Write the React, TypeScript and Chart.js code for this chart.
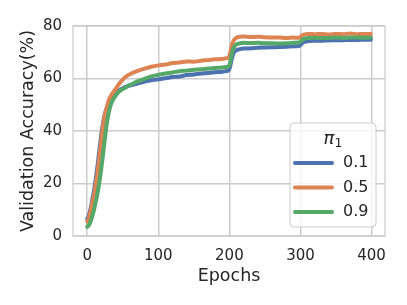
import React, { useEffect, useRef } from "react";
import { Chart, registerables } from "chart.js";

Chart.register(...registerables);

// ---- data ----
const epochs = [
  0, 2, 4, 6, 8, 10, 12, 14, 16, 18, 20, 22, 24, 26, 28, 30, 33, 36, 40, 45, 50, 55, 60,
  70, 80, 90, 100, 110, 120, 130, 140, 150, 160, 170, 180, 190, 195, 199,
  201, 203, 205, 207, 210, 215, 220, 230, 240, 250, 260, 270, 280, 290, 295, 299,
  301, 303, 305, 308, 312, 320, 330, 340, 350, 360, 370, 380, 390, 399,
];

const acc01 = [
  6.5, 7.5, 9.5, 12, 15, 18, 21.5, 25.5, 30, 34.5, 39, 42.5, 45.5, 47.5, 49, 50.5, 52, 53.2, 54.5, 55.5, 56.3, 56.9, 57.3,
  58, 58.7, 59.3, 59.7, 60.1, 60.6, 60.8, 61.3, 61.5, 61.9, 62.1, 62.4, 62.6, 62.8, 63.1,
  64.5, 67, 69, 70.1, 70.8, 71.2, 71.4, 71.5, 71.7, 71.8, 71.9, 72, 72.1, 72.3, 72.3, 72.5,
  73, 73.6, 73.9, 74.1, 74.3, 74.4, 74.4, 74.5, 74.6, 74.6, 74.7, 74.7, 74.8, 74.8,
];

const acc05 = [
  5.5, 6.5, 8.5, 11, 13.5, 16, 19.5, 23, 27.5, 32, 37, 41.5, 45, 47.5, 49.5, 51.5, 53.2, 54.5, 56, 58, 59.6, 60.8, 61.6,
  62.8, 63.7, 64.5, 65, 65.3, 65.9, 66.1, 66.5, 66.4, 66.8, 67, 67.3, 67.4, 67.7, 68,
  69.5, 72, 73.8, 74.8, 75.5, 75.9, 76, 75.8, 75.9, 75.7, 75.6, 75.6, 75.4, 75.6, 75.5, 75.6,
  76, 76.5, 76.7, 76.9, 77, 76.9, 77, 76.8, 77, 76.9, 77.1, 76.9, 77, 77,
];

const acc09 = [
  3.5, 4, 5, 6.5, 8.3, 10.5, 13, 15.5, 18.5, 22, 26, 30.5, 35, 39.5, 43.5, 46.5, 49.8, 51.8, 53.4, 55, 56, 56.8, 57.5,
  58.8, 59.8, 60.8, 61.4, 61.9, 62.3, 62.8, 63, 63.3, 63.5, 63.8, 64, 64.2, 64.4, 64.6,
  66, 68.8, 71, 72.2, 73, 73.4, 73.6, 73.5, 73.6, 73.4, 73.4, 73.3, 73.4, 73.6, 73.7, 73.8,
  74.3, 74.8, 75.1, 75.3, 75.4, 75.5, 75.4, 75.5, 75.6, 75.5, 75.6, 75.6, 75.5, 75.6,
];

const seriesLabels = ["0.1", "0.5", "0.9"];
const seriesColors = ["#4c72b0", "#dd8452", "#55a868"];
const seriesValues = [acc01, acc05, acc09];
const xTicks = [0, 100, 200, 300, 400];
const yTicks = [0, 20, 40, 60, 80];
const xLabel = "Epochs";
const yLabel = "Validation Accuracy(%)";
const legendTitle = "π";
const legendTitleSub = "1";

const FONT = "'DejaVu Sans', sans-serif";
const TEXT = "#262626";
const GRID = "#cccccc";

const framePlugin = {
  id: "mplFrame",
  beforeDatasetsDraw(chart: any) {
    const { ctx, chartArea: a } = chart;
    ctx.save();
    ctx.strokeStyle = GRID;
    ctx.lineWidth = 1.25;
    ctx.strokeRect(a.left, a.top, a.right - a.left, a.bottom - a.top);
    ctx.restore();
  },
};

const legendPlugin = {
  id: "mplLegend",
  afterDraw(chart: any) {
    const { ctx, chartArea: a } = chart;
    const w = 86;
    const h = 104;
    const x0 = a.right - 9 - w;
    const y0 = a.bottom - 9 - h;
    ctx.save();
    const r = 4;
    ctx.beginPath();
    ctx.moveTo(x0 + r, y0);
    ctx.lineTo(x0 + w - r, y0);
    ctx.quadraticCurveTo(x0 + w, y0, x0 + w, y0 + r);
    ctx.lineTo(x0 + w, y0 + h - r);
    ctx.quadraticCurveTo(x0 + w, y0 + h, x0 + w - r, y0 + h);
    ctx.lineTo(x0 + r, y0 + h);
    ctx.quadraticCurveTo(x0, y0 + h, x0, y0 + h - r);
    ctx.lineTo(x0, y0 + r);
    ctx.quadraticCurveTo(x0, y0, x0 + r, y0);
    ctx.closePath();
    ctx.fillStyle = "rgba(255,255,255,0.8)";
    ctx.fill();
    ctx.strokeStyle = GRID;
    ctx.lineWidth = 1;
    ctx.stroke();

    // title
    ctx.fillStyle = TEXT;
    ctx.textBaseline = "alphabetic";
    ctx.textAlign = "left";
    ctx.font = `italic 18px ${FONT}`;
    const wPi = ctx.measureText(legendTitle).width;
    ctx.font = `12.5px ${FONT}`;
    const wSub = ctx.measureText(legendTitleSub).width;
    const cx = x0 + w / 2;
    const tx = cx - (wPi + wSub) / 2;
    ctx.font = `italic 18px ${FONT}`;
    ctx.fillText(legendTitle, tx, y0 + 21);
    ctx.font = `12.5px ${FONT}`;
    ctx.fillText(legendTitleSub, tx + wPi, y0 + 24);

    // entries
    chart.data.datasets.forEach((ds: any, i: number) => {
      const y = y0 + 40 + i * 24.5;
      ctx.beginPath();
      ctx.moveTo(x0 + 5, y);
      ctx.lineTo(x0 + 42, y);
      ctx.strokeStyle = ds.borderColor;
      ctx.lineWidth = 4;
      ctx.lineCap = "round";
      ctx.stroke();
      ctx.fillStyle = TEXT;
      ctx.font = `16px ${FONT}`;
      ctx.textBaseline = "middle";
      ctx.fillText(ds.label, x0 + 53, y);
    });
    ctx.restore();
  },
};

export default function App() {
  const ref = useRef<HTMLCanvasElement | null>(null);

  useEffect(() => {
    if (!ref.current) return;
    const datasets = seriesLabels.map((label, i) => ({
      label,
      data: epochs.map((e, j) => ({ x: e, y: seriesValues[i][j] })),
      borderColor: seriesColors[i],
      backgroundColor: seriesColors[i],
      borderWidth: 4,
      pointRadius: 0,
      borderCapStyle: "round" as const,
      borderJoinStyle: "round" as const,
      cubicInterpolationMode: "monotone" as const,
      order: seriesLabels.length - 1 - i,
    }));

    const chart = new Chart(ref.current, {
      type: "line",
      data: { datasets },
      options: {
        animation: false,
        responsive: false,
        maintainAspectRatio: false,
        layout: { padding: { top: 26, right: 22, left: 0, bottom: 0 } },
        plugins: { legend: { display: false }, tooltip: { enabled: false } },
        scales: {
          x: {
            type: "linear",
            min: -19.95,
            max: 418.95,
            afterBuildTicks: (scale: any) => {
              scale.ticks = xTicks.map((v) => ({ value: v }));
            },
            afterFit: (scale: any) => {
              scale.height = 69;
            },
            grid: { color: GRID, lineWidth: 1.5, drawTicks: false },
            border: { display: false },
            ticks: {
              color: TEXT,
              font: { family: FONT, size: 15 },
              padding: 11,
              maxRotation: 0,
              callback: (v: any) => String(v),
            },
            title: {
              display: true,
              text: xLabel,
              color: TEXT,
              font: { family: FONT, size: 17.5 },
              padding: { top: 0, bottom: 18 },
            },
          },
          y: {
            type: "linear",
            min: 0,
            max: 80,
            afterBuildTicks: (scale: any) => {
              scale.ticks = yTicks.map((v) => ({ value: v }));
            },
            afterFit: (scale: any) => {
              scale.width = 73;
            },
            grid: { color: GRID, lineWidth: 1.5, drawTicks: false },
            border: { display: false },
            ticks: {
              color: TEXT,
              font: { family: FONT, size: 15 },
              padding: 11,
              callback: (v: any) => String(v),
            },
            title: {
              display: true,
              text: yLabel,
              color: TEXT,
              font: { family: FONT, size: 17.5 },
              padding: { top: 17.5, bottom: 0 },
            },
          },
        },
      },
      plugins: [framePlugin, legendPlugin],
    });
    return () => chart.destroy();
  }, []);

  return (
    <div style={{ position: "fixed", left: 0, top: 0, width: 407, height: 305, background: "#fff" }}>
      <canvas ref={ref} width={407} height={305} style={{ width: 407, height: 305, display: "block" }} />
    </div>
  );
}
